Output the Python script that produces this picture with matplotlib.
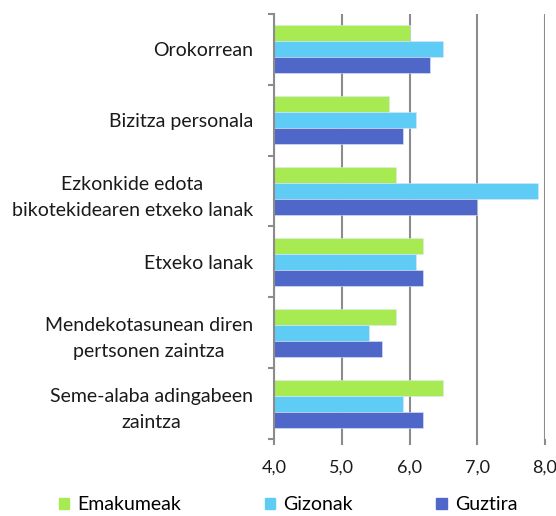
import numpy as np
import matplotlib.pyplot as plt
import matplotlib.transforms as mtransforms
from matplotlib.patches import Patch

plt.rcParams['font.family'] = ['Lato', 'DejaVu Sans']

# data
categories = ['Orokorrean', 'Bizitza personala',
              'Ezkonkide edota\nbikotekidearen etxeko lanak', 'Etxeko lanak',
              'Mendekotasunean diren\npertsonen zaintza',
              'Seme-alaba adingabeen\nzaintza']
emakumeak = [6.0, 5.7, 5.8, 6.2, 5.8, 6.5]
gizonak = [6.5, 6.1, 7.9, 6.1, 5.4, 5.9]
guztira = [6.3, 5.9, 7.0, 6.2, 5.6, 6.2]
series_names = ['Emakumeak', 'Gizonak', 'Guztira']
xticks = [4.0, 5.0, 6.0, 7.0, 8.0]
xticklabels = ['4,0', '5,0', '6,0', '7,0', '8,0']

colors = ['#A8EA52', '#5ECCF4', '#4F67C8']
grid_c = '#8C8C8C'
fs = 14

fig = plt.figure(figsize=(5.56, 5.16), dpi=100)
ax = fig.add_axes([274 / 556, 1 - 439 / 516, (545 - 274) / 556, (439 - 14) / 516])

y = np.arange(len(categories))
h = 0.226
for vals, off, c in zip([emakumeak, gizonak, guztira], [-h, 0, h], colors):
    ax.barh(y + off, np.array(vals) - 4.0, left=4.0, height=h, color=c,
            edgecolor='#DDE8F8', linewidth=0.4, zorder=3)

ax.set_xlim(4.0, 8.0)
ax.set_ylim(len(categories) - 0.5, -0.5)
ax.set_xticks(xticks)
ax.set_xticklabels(xticklabels, fontsize=13, color='#1a1a1a')
# last label sits at the figure edge, nudge it in a bit
last = ax.get_xticklabels()[-1]
last.set_transform(last.get_transform() +
                   mtransforms.ScaledTranslation(-4 / 100, 0, fig.dpi_scale_trans))

ax.set_yticks(y)
ax.set_yticklabels(categories, fontsize=fs, color='#1a1a1a', linespacing=1.65)
for lab in ax.get_yticklabels():
    lab.set_multialignment('center')
    lab.set_transform(lab.get_transform() +
                      mtransforms.ScaledTranslation(0, 2 / 100, fig.dpi_scale_trans))
ax.set_yticks(np.arange(len(categories) + 1) - 0.5, minor=True)

ax.tick_params(axis='y', which='major', length=0, pad=15)
ax.tick_params(axis='y', which='minor', length=4, width=1.5, color=grid_c)
ax.tick_params(axis='x', length=4, width=1.5, color=grid_c, pad=11)

ax.grid(axis='x', color=grid_c, linewidth=1.5, zorder=0)
for s in ['top', 'right', 'bottom']:
    ax.spines[s].set_visible(False)
ax.spines['left'].set_color(grid_c)
ax.spines['left'].set_linewidth(1.5)
ax.spines['left'].set_zorder(4)

handles = [Patch(color=c, label=n) for c, n in zip(colors, series_names)]
fig.legend(handles=handles, loc='center', bbox_to_anchor=(288 / 556, 1 - 505 / 516),
           ncol=3, frameon=False, fontsize=fs, handlelength=0.55, handleheight=0.55,
           handletextpad=0.4, columnspacing=4.3)

fig.savefig('out.png', dpi=100)
